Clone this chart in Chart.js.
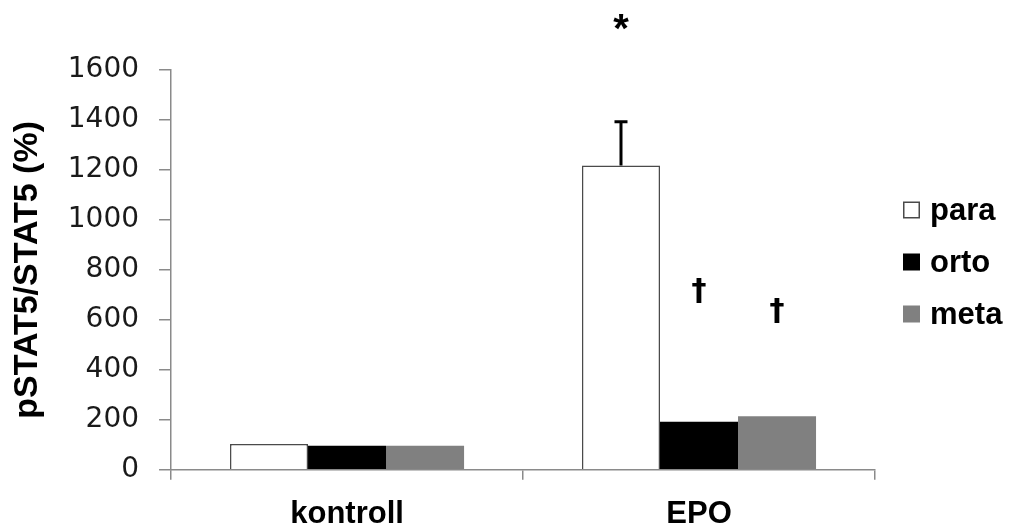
<!DOCTYPE html>
<html>
<head>
<meta charset="utf-8">
<script src="https://cdn.jsdelivr.net/npm/chart.js@4.4.1/dist/chart.umd.min.js"></script>
<style>
  html, body { margin: 0; padding: 0; background: #fff; }
  #wrap { width: 1011px; height: 528px; }
</style>
</head>
<body>
<div id="wrap"><canvas id="chart" width="1011" height="528"></canvas></div>
<script>
// ---- data ----
const categories = ['kontroll', 'EPO'];
const seriesNames = ['para', 'orto', 'meta'];
const paraValues = [103, 1218];
const ortoValues = [96, 192];
const metaValues = [96, 214];
const paraErrors = [0, 175];
const yTicks = [0, 200, 400, 600, 800, 1000, 1200, 1400, 1600];

// significance marks: symbol + value level they sit at
const paraMarks = ['', '*'];
const paraMarkLevels = [0, 1780];
const ortoMarks = ['', '†'];
const ortoMarkLevels = [0, 710];
const metaMarks = ['', '†'];
const metaMarkLevels = [0, 630];

const AXIS_GRAY = '#8a8a8a';

// error bars on top of bars
const errorBars = {
  id: 'errorBars',
  afterDatasetsDraw(chart) {
    const { ctx, scales: { y } } = chart;
    chart.data.datasets.forEach((ds, di) => {
      if (!ds.errors) return;
      const meta = chart.getDatasetMeta(di);
      meta.data.forEach((bar, i) => {
        const err = ds.errors[i];
        if (!err) return;
        const top = y.getPixelForValue(ds.data[i] + err);
        ctx.save();
        ctx.strokeStyle = '#000';
        ctx.lineWidth = 3;
        ctx.beginPath();
        ctx.moveTo(bar.x, bar.y);
        ctx.lineTo(bar.x, top);
        ctx.moveTo(bar.x - 6.5, top);
        ctx.lineTo(bar.x + 6.5, top);
        ctx.stroke();
        ctx.restore();
      });
    });
  }
};

// * and † above bars
const sigMarks = {
  id: 'sigMarks',
  afterDatasetsDraw(chart) {
    const { ctx, scales: { y } } = chart;
    chart.data.datasets.forEach((ds, di) => {
      if (!ds.marks) return;
      const meta = chart.getDatasetMeta(di);
      meta.data.forEach((bar, i) => {
        const m = ds.marks[i];
        if (!m) return;
        ctx.save();
        ctx.fillStyle = '#000';
        ctx.textAlign = 'center';
        ctx.textBaseline = 'middle';
        if (m === '*') {
          ctx.font = 'bold 40px "Liberation Sans", Arial, sans-serif';
          ctx.fillText(m, bar.x, y.getPixelForValue(ds.markLevels[i]) + 6);
        } else {
          ctx.font = 'bold 30px "DejaVu Sans", sans-serif';
          ctx.fillText(m, bar.x, y.getPixelForValue(ds.markLevels[i]));
        }
        ctx.restore();
      });
    });
  }
};

// legend at the right, drawn from the datasets
const sideLegend = {
  id: 'sideLegend',
  afterDraw(chart) {
    const { ctx } = chart;
    const x0 = 903, y0 = 210, step = 52, box = 17;
    chart.data.datasets.forEach((ds, i) => {
      const cy = y0 + i * step;
      ctx.save();
      ctx.fillStyle = ds.backgroundColor;
      ctx.fillRect(x0, cy - box / 2, box, box);
      if (ds.borderWidth) {
        ctx.strokeStyle = ds.borderColor;
        ctx.lineWidth = 1.5;
        ctx.strokeRect(x0 + 0.75, cy - box / 2 + 0.75, box - 1.5, box - 1.5);
      }
      ctx.fillStyle = '#000';
      ctx.font = 'bold 31px "Liberation Sans", Arial, sans-serif';
      ctx.textBaseline = 'middle';
      ctx.fillText(ds.label, x0 + 27, cy + 1);
      ctx.restore();
    });
  }
};

new Chart(document.getElementById('chart'), {
  type: 'bar',
  data: {
    labels: categories,
    datasets: [
      {
        label: seriesNames[0],
        data: paraValues,
        errors: paraErrors,
        marks: paraMarks,
        markLevels: paraMarkLevels,
        backgroundColor: '#ffffff',
        borderColor: '#4a4a4a',
        borderWidth: 1.5,
        borderSkipped: 'bottom',
      },
      {
        label: seriesNames[1],
        data: ortoValues,
        marks: ortoMarks,
        markLevels: ortoMarkLevels,
        backgroundColor: '#000000',
        borderWidth: 0,
      },
      {
        label: seriesNames[2],
        data: metaValues,
        marks: metaMarks,
        markLevels: metaMarkLevels,
        backgroundColor: '#808080',
        borderWidth: 0,
      },
    ],
  },
  options: {
    responsive: false,
    animation: false,
    events: [],
    layout: { padding: { top: 70, right: 136, left: 0, bottom: -21 } },
    datasets: {
      bar: { categoryPercentage: 0.665, barPercentage: 1 },
    },
    plugins: {
      legend: { display: false },
      tooltip: { enabled: false },
    },
    scales: {
      x: {
        offset: true,
        grid: {
          offset: true,
          drawOnChartArea: false,
          drawTicks: true,
          tickLength: 10,
          color: AXIS_GRAY,
          lineWidth: 1.5,
        },
        border: { color: AXIS_GRAY, width: 1.5 },
        ticks: {
          color: '#000',
          padding: 16,
          font: { family: '"Liberation Sans", Arial, sans-serif', size: 31, weight: 'bold' },
        },
      },
      y: {
        min: 0,
        max: 1600,
        afterBuildTicks: (scale) => { scale.ticks = yTicks.map(v => ({ value: v })); },
        grid: {
          drawOnChartArea: false,
          drawTicks: true,
          tickLength: 12,
          color: AXIS_GRAY,
          lineWidth: 1.5,
        },
        border: { color: AXIS_GRAY, width: 1.5 },
        ticks: {
          color: '#1a1a1a',
          padding: 20,
          callback: (v) => String(v),
          font: { family: '"DejaVu Sans", sans-serif', size: 28 },
        },
        title: {
          display: true,
          text: 'pSTAT5/STAT5 (%)',
          color: '#000',
          padding: { top: 7, bottom: 0 },
          font: { family: '"Liberation Sans", Arial, sans-serif', size: 34, weight: 'bold' },
        },
      },
    },
  },
  plugins: [errorBars, sigMarks, sideLegend],
});
</script>
</body>
</html>
